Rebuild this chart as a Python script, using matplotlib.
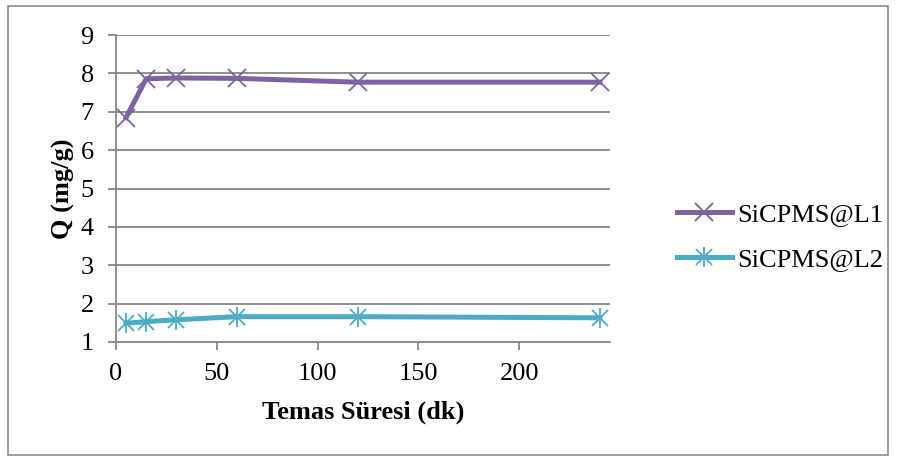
import matplotlib
matplotlib.use("Agg")
import matplotlib.pyplot as plt
from matplotlib.patches import Rectangle
from matplotlib.legend_handler import HandlerTuple

time_min = [5, 15, 30, 60, 120, 240]
q_l1 = [6.85, 7.86, 7.88, 7.87, 7.77, 7.77]
q_l2 = [1.49, 1.53, 1.58, 1.66, 1.66, 1.63]
series_names = ["SiCPMS@L1", "SiCPMS@L2"]
x_label = "Temas Süresi (dk)"
y_label = "Q (mg/g)"
x_ticks = [0, 50, 100, 150, 200]
y_ticks = [1, 2, 3, 4, 5, 6, 7, 8, 9]

plt.rcParams['font.family'] = ['Liberation Serif', 'DejaVu Serif']

purple = "#7F62A1"
cyan = "#4BACC6"
grid_c = "#878787"
FS = 19

fig = plt.figure(figsize=(9, 4.62), dpi=100)
ax = fig.add_axes([116/900, 1-342/462, (610-116)/900, (342-35)/462])

fig.patches.append(Rectangle((8/900, 1-455/462), (888-8)/900, (455-6)/462,
                             transform=fig.transFigure, fill=False,
                             edgecolor="#8C8C8C", linewidth=1.2))

for y in y_ticks:
    ax.axhline(y, color=grid_c, linewidth=1.3, zorder=1)

l1, = ax.plot(time_min, q_l1, color=purple, linewidth=3.6, marker='x',
              markersize=13, markeredgewidth=1.3, zorder=3, clip_on=False)
l2, = ax.plot(time_min, q_l2, color=cyan, linewidth=3.6, marker='x',
              markersize=12, markeredgewidth=1.3, zorder=3, clip_on=False)
l2b, = ax.plot(time_min, q_l2, color=cyan, linestyle='none', marker='|',
               markersize=14, markeredgewidth=1.3, zorder=3, clip_on=False)

ax.set_xlim(0, 245)
ax.set_ylim(1, 9)
ax.set_xticks(x_ticks)
ax.set_yticks(y_ticks)

for s in ['top', 'right']:
    ax.spines[s].set_visible(False)
for s in ['left', 'bottom']:
    ax.spines[s].set_color(grid_c)
    ax.spines[s].set_linewidth(1.3)

ax.tick_params(axis='both', which='major', labelsize=FS, color=grid_c,
               width=1.3, length=6, direction='out')
ax.tick_params(axis='y', pad=10)
ax.tick_params(axis='x', pad=9)

ax.set_xlabel(x_label, fontsize=FS, fontweight='bold', labelpad=11)
ax.set_ylabel(y_label, fontsize=FS, fontweight='bold', labelpad=4)

leg = fig.legend([l1, (l2, l2b)], series_names,
                 handler_map={tuple: HandlerTuple(ndivide=1)},
                 loc='center left', bbox_to_anchor=(653/900, 1-237/462),
                 frameon=False, fontsize=FS, handlelength=2.1,
                 handletextpad=0.2, labelspacing=0.8)

fig.savefig("out.png", dpi=100)
